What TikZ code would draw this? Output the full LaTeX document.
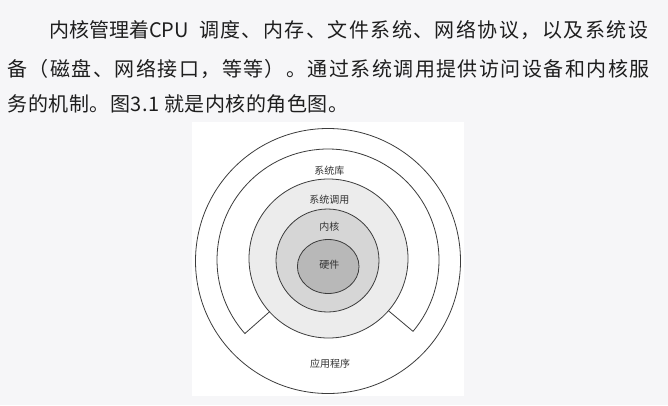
\documentclass[tikz,border=0pt]{standalone}
\usepackage{fontspec}
\usepackage{xcolor}
\newfontfamily\cjk{Noto Sans CJK SC}
\newfontfamily\cjkwide[LetterSpace=7.25]{Noto Sans CJK SC}
\newfontfamily\cjkmid[LetterSpace=2.5]{Noto Sans CJK SC}
\definecolor{pagebg}{RGB}{246,246,248}
\definecolor{inkline}{RGB}{60,60,60}
\definecolor{syscallfill}{RGB}{236,236,236}
\definecolor{kernelfill}{RGB}{214,214,214}
\definecolor{hwfill}{RGB}{184,184,184}
\definecolor{bodytext}{RGB}{30,30,30}
\tikzstyle{para} = [anchor=base west, inner sep=0pt, text=bodytext, font=\cjkwide\fontsize{20}{24}\selectfont]
\tikzstyle{ring} = [draw=inkline, line width=0.8pt]

\begin{document}
\begin{tikzpicture}[x=1pt, y=1pt,
		layer/.style={
			font=\cjk\fontsize{10}{12}\selectfont,
			text=black!80,
			inner sep=1pt}]
	\fill[pagebg] (0,0) rectangle (668,405);
	\useasboundingbox (0,0) rectangle (668,405);

	\node (line1) [para] at (49,367.2) {{\cjk 内核管理着CPU}\hspace{10pt}调度、内存、文件系统、网络协议，以及系统设};
	\node (line2) [para] at (7.3,328.2) {备（磁盘、网络接口，等等）。通过系统调用提供访问设备和内核服};
	\node (line3) [para, font=\cjkmid\fontsize{20}{24}\selectfont] at (7.3,293.2) {务的机制。图3.1 就是内核的角色图。};

	% figure
	\fill[white] (191.7,9.3) rectangle (464,282.7);
	\draw[ring] (328,144) circle (132.5pt);
	\coordinate (libc) at (328,145);
	\draw[ring] ([shift={(libc)}]320:70pt) -- ([shift={(libc)}]320:111pt)
		arc[start angle=320, end angle=581.5, radius=111pt] -- ([shift={(libc)}]221.5:70pt);
	\draw[ring, fill=syscallfill] (328.5,146.5) circle (79.5pt);
	\draw[ring, fill=kernelfill] (327.5,144.5) circle (51.5pt);
	\draw[ring, fill=hwfill] (328.2,138.5) ellipse [x radius=30.8pt, y radius=27pt];

	\node (lib) [layer] at (329.3,234.3) {系统库};
	\node (syscall) [layer] at (329.3,205) {系统调用};
	\node (kernel) [layer] at (329.3,178) {内核};
	\node (hw) [layer] at (329.3,140) {硬件};
	\node (apps) [layer] at (330,41.7) {应用程序};
\end{tikzpicture}
\end{document}
